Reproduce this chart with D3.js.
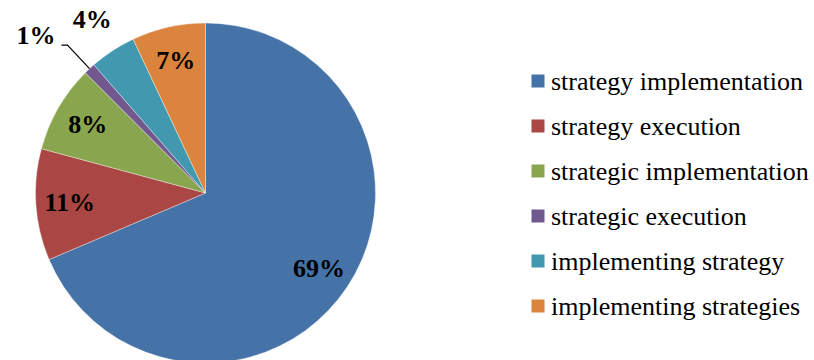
<!DOCTYPE html>
<html>
<head>
<meta charset="utf-8">
<script src="https://cdn.jsdelivr.net/npm/d3@7"></script>
<style>
  html, body { margin: 0; padding: 0; background: #fff; }
  svg { display: block; }
</style>
</head>
<body>
<svg id="chart" width="814" height="360"></svg>
<script>
const categories = [
  "strategy implementation",
  "strategy execution",
  "strategic implementation",
  "strategic execution",
  "implementing strategy",
  "implementing strategies"
];
const values = [68.6, 10.6, 8.3, 1.1, 4.4, 7.0];
const colors = ["#4572A7", "#AA4643", "#89A54E", "#71588F", "#4198AF", "#DB843D"];

const svg = d3.select("#chart");
const W = 814, H = 360;
const cx = 205.5, cy = 193, r = 170;
const total = d3.sum(values);
const data = categories.map((c, i) => ({ name: c, value: values[i], color: colors[i] }));

const pie = d3.pie().value(d => d.value).sort(null).startAngle(0).endAngle(2 * Math.PI);
const arcs = pie(data);
const arc = d3.arc().innerRadius(0).outerRadius(r);

const g = svg.append("g").attr("transform", `translate(${cx},${cy})`);
g.selectAll("path.slice").data(arcs).join("path")
  .attr("class", "slice")
  .attr("d", arc)
  .attr("fill", d => d.data.color)
  .attr("stroke", "#ffffff")
  .attr("stroke-opacity", 0.6)
  .attr("stroke-width", 0.6);

const pct = d => Math.round(d.data.value / total * 100) + "%";
const mid = d => (d.startAngle + d.endAngle) / 2;
const pt = (a, rad) => [Math.sin(a) * rad, -Math.cos(a) * rad];

const labelFont = "'Liberation Serif','Times New Roman',serif";

arcs.forEach(d => {
  const p = d.data.value / total * 100;
  const a = mid(d);
  if (p >= 5) {
    const [x, y] = pt(a, r * 0.8);
    g.append("text").attr("x", x).attr("y", y)
      .attr("text-anchor", "middle").attr("dominant-baseline", "central")
      .attr("font-family", labelFont).attr("font-weight", "bold").attr("font-size", 26)
      .attr("fill", "#000").text(pct(d));
  } else if (p >= 2) {
    const [x, y] = pt(a, r * 1.22);
    g.append("text").attr("x", x).attr("y", y)
      .attr("text-anchor", "middle").attr("dominant-baseline", "central")
      .attr("font-family", labelFont).attr("font-weight", "bold").attr("font-size", 26)
      .attr("fill", "#000").text(pct(d));
  } else {
    const [x0, y0] = pt(a, r * 1.0);
    const [x1, y1] = pt(a, r * 1.19);
    const x2 = x1 - 6;
    g.append("path")
      .attr("d", `M${x0},${y0}L${x1},${y1}L${x2},${y1}`)
      .attr("fill", "none").attr("stroke", "#000").attr("stroke-width", 1.2);
    g.append("text").attr("x", x2 - 6).attr("y", y1 - 1)
      .attr("text-anchor", "end")
      .attr("font-family", labelFont).attr("font-weight", "bold").attr("font-size", 26)
      .attr("fill", "#000").text(pct(d));
  }
});

// Legend
const legendX = 531.5, legendY0 = 81, rowH = 45, sw = 13;
const lg = svg.append("g");
const rows = lg.selectAll("g.row").data(data).join("g")
  .attr("class", "row")
  .attr("transform", (d, i) => `translate(${legendX},${legendY0 + i * rowH})`);
rows.append("rect")
  .attr("x", 0).attr("y", -sw / 2).attr("width", sw).attr("height", sw)
  .attr("fill", d => d.color);
rows.append("text")
  .attr("x", 19.5).attr("y", 8.5)
  .attr("font-family", labelFont).attr("font-size", 26)
  .attr("fill", "#000")
  .text(d => d.name);
</script>
</body>
</html>
